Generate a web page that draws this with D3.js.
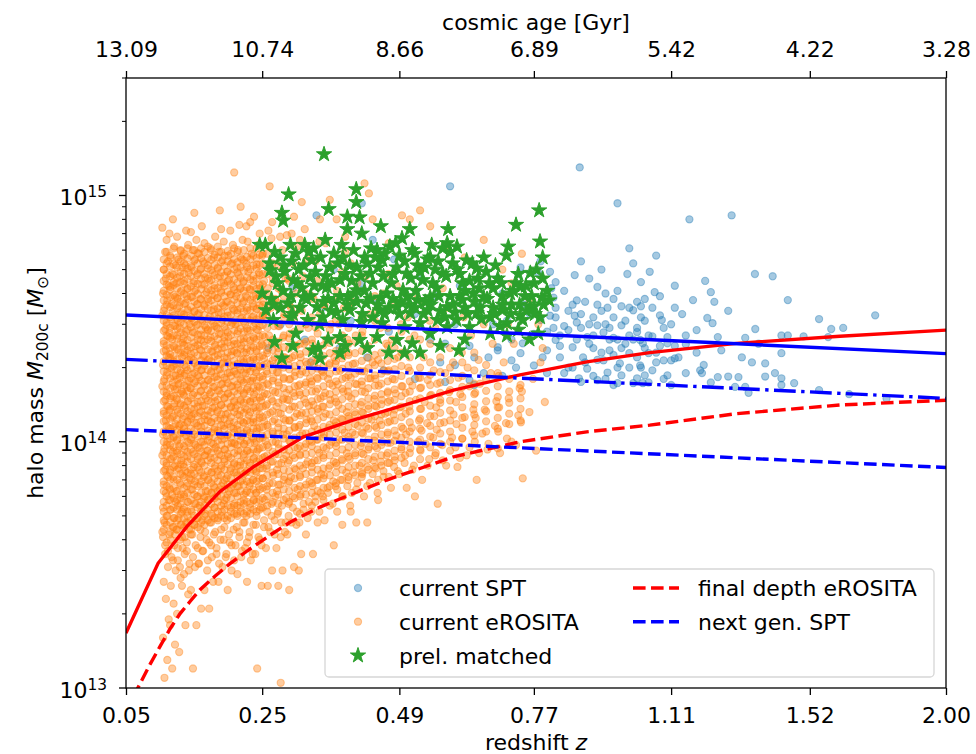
<!DOCTYPE html>
<html><head><meta charset="utf-8">
<script src="https://cdn.jsdelivr.net/npm/d3@7/dist/d3.min.js"></script>
<style>body{margin:0;background:#fff}svg text{font-family:"DejaVu Sans",sans-serif;fill:#000}</style>
</head><body>
<svg id="c" width="976" height="754"></svg>
<script>
// ---- axis tick values ----
const zTicks = [0.05, 0.25, 0.49, 0.77, 1.11, 1.52, 2.00];
const ageLabels = ["13.09", "10.74", "8.66", "6.89", "5.42", "4.22", "3.28"];
const massMajor = [0.1, 1, 10];          // units of 1e14 Msun
const massMajorExp = ["13", "14", "15"];

// ---- scatter data: flat pairs [z, M200c / 1e14 Msun] ----
const sptPts = [
1.053,4.9,1.204,4.5,1.349,4.8,1.403,4.7,1.066,4.05,1.04,3.8,1.17,3.76,1.22,4.05,1.23,3.7,1.45,3.76,1.03,3.55,1.12,3.5,1.14,3.3,1.08,3.26,1.085,3.12,1.21,3.18,1.225,3.03,1.55,3.15,1.74,3.26,1.35,2.87,1.59,2.87,1.63,2.9,1.18,2.84,1.24,2.66,1.32,2.64,1.43,2.7,1.45,2.7,1.5,2.68,1.58,2.66,1.02,2.79,1.06,2.68,1.1,2.66,1.035,2.51,1.1,2.51,1.15,2.49,1.43,2.29,1.05,2.29,1.09,2.14,1.11,2.14,1.12,2.18,1.34,2.1,1.38,2.08,1.03,2.0,1.04,1.86,1.1,1.86,1.15,1.9,1.19,1.95,1.195,1.9,1.24,1.83,1.27,1.84,1.3,1.83,1.38,1.84,1.41,1.9,1.43,1.81,1.035,1.73,1.05,1.74,1.11,1.7,1.22,1.74,1.29,1.67,1.32,1.67,1.33,1.58,1.43,1.7,1.47,1.73,1.55,1.62,1.65,1.56,1.78,1.5,
.88,5.4,1.01,5.3,.807,4.9,.865,4.75,.82,4.45,1.03,4.45,.84,4.1,.92,4.25,.94,4.0,.97,4.1,.815,3.85,.87,3.75,.89,3.7,.945,3.5,.98,3.55,1.01,3.42,.82,3.5,.865,3.25,.91,3.2,.96,3.2,.92,2.97,.87,3.05,.98,2.97,1.02,2.9,.815,2.9,.85,2.84,.935,2.78,.895,2.66,.96,2.64,1.028,2.59,.82,2.59,.86,2.42,.91,2.4,.95,2.35,1.0,2.29,.80,2.35,.83,2.2,.885,2.2,.935,2.14,.976,2.08,1.028,2.04,.85,2.0,.895,1.98,.945,1.91,.98,1.86,1.02,1.81,.875,1.81,.92,1.78,.97,1.73,1.01,1.73,.77,2.04,.72,2.14,.74,2.29,.69,2.42,.745,2.51,.77,2.74,.785,3.12,.76,3.32,.807,3.25,.995,4.8,.74,5.1,.78,4.85,.69,2.35,.785,5.4,
.63,1.78,.66,1.9,.6,2.05,.7,1.85,.58,2.5,.64,2.2,.72,2.6,.68,3.0,.62,3.4,.75,3.6,.7,4.0,
.877,13,.97,9.3,1.16,8.0,1.28,8.3,.59,10.9,.34,8.3,.42,9.3,.44,6.6,1.07,5.7,1.0,6.1,.93,5.0,1.12,4.3,
.28,3.0,.3,4.2,.32,2.6,.35,3.5,.37,5.0,.38,2.4,.4,3.1,.42,4.4,.43,2.2,.45,3.7,.47,2.8,.48,5.5,.5,2.3,.52,3.3,.53,4.7,.55,2.6,.56,3.9,.57,2.1,.6,3.0,.61,4.3,.63,2.45,.65,3.55,.67,2.2,.69,4.6,.71,3.1,.73,2.0,.26,2.4,.33,2.1,.46,1.95,.52,1.8,.58,1.75,.64,1.7,
.83,2.7,.86,3.6,.9,2.5,.93,3.4,.95,2.9,.99,2.5,1.04,3.1,1.07,2.3,.84,1.9,.88,2.9,.91,1.85,.96,2.25,1.0,2.7,1.06,1.95,1.09,2.9,1.13,2.2,1.15,2.7,1.18,2.3,1.2,2.05,.81,4.2,.9,4.6,.94,3.0,.97,2.6,1.02,3.7,1.08,3.9,1.12,2.45,1.25,2.35,1.27,3.4,1.31,2.2,1.36,2.5,
.79,2.2,.8,2.8,.82,3.2,.83,2.45,.85,3.4,.86,2.0,.87,2.6,.88,3.3,.89,2.1,.9,3.0,.91,2.7,.92,3.6,.93,2.3,.94,1.8,.95,2.6,.96,3.8,.97,2.0,.98,2.4,.99,3.1,1.0,2.0,1.01,2.6,1.02,2.2,1.03,3.2,1.04,2.4,1.05,2.7,1.06,3.5,1.07,2.1,1.08,2.45,1.09,1.8,1.11,3.0,.8,1.9,.84,2.95,.88,1.75,.92,2.15,.96,1.7,1.0,3.5
];

const eroPts = [
.103,.11,.107,.13,.101,.16,.109,.19,.105,.23,.102,.27,.108,.31,.104,.35,.106,.39,.100,.43,
.103,.47,.107,.5,.101,.54,.109,.58,.105,.62,.102,.67,.108,.72,.104,.77,.106,.82,.100,.88,
.103,.94,.107,1,.101,1.07,.109,1.14,.105,1.22,.102,1.3,.108,1.39,.104,1.48,.106,1.58,.100,1.68,
.103,1.8,.107,1.92,.101,2.05,.109,2.2,.105,2.35,.102,2.5,.108,2.68,.104,2.86,.106,3.05,.100,3.26,
.103,3.5,.107,3.75,.101,4,.109,4.3,.105,4.6,.102,5,.108,5.4,.104,5.9,.106,6.6,.100,7.4,
.114,.12,.118,.15,.111,.18,.116,.22,.112,.26,.119,.3,.113,.34,.117,.38,.110,.42,.115,.45,
.117,.49,.112,.53,.119,.57,.114,.61,.110,.65,.116,.7,.111,.75,.118,.8,.113,.85,.115,.91,
.111,.97,.116,1.04,.113,1.1,.119,1.18,.114,1.26,.110,1.34,.117,1.43,.112,1.53,.118,1.63,.115,1.74,
.119,1.86,.113,1.98,.116,2.12,.111,2.27,.117,2.42,.114,2.6,.110,2.77,.118,2.95,.112,3.15,.115,3.38,
.113,3.62,.118,3.87,.111,4.15,.116,4.45,.114,4.8,.119,5.2,.112,5.6,.117,6.2,.110,7,.115,8,
.124,.14,.121,.2,.128,.26,.126,.28,.122,.33,.129,.37,.125,.4,.120,.44,.127,.46,.123,.49,
.128,.52,.122,.55,.126,.59,.120,.63,.125,.68,.129,.73,.123,.78,.127,.84,.121,.9,.124,.96,
.121,1.02,.127,1.09,.124,1.16,.129,1.24,.122,1.32,.126,1.41,.120,1.5,.128,1.6,.123,1.71,.125,1.82,
.126,1.94,.120,2.07,.128,2.21,.123,2.36,.129,2.52,.121,2.7,.125,2.9,.122,3.1,.127,3.3,.124,3.55,
.122,3.8,.127,4.1,.120,4.4,.125,4.7,.129,5.1,.123,5.5,.126,6,.121,6.8,
.133,.18,.137,.24,.131,.29,.139,.32,.135,.36,.132,.41,.138,.44,.134,.47,.136,.5,.130,.53,
.137,.57,.131,.61,.135,.66,.139,.71,.133,.76,.130,.81,.136,.87,.132,.93,.138,.99,.134,1.06,
.131,1.13,.136,1.2,.139,1.28,.133,1.37,.137,1.46,.130,1.56,.135,1.66,.138,1.77,.132,1.89,.134,2.01,
.138,2.15,.132,2.3,.136,2.45,.130,2.62,.134,2.8,.139,3,.131,3.2,.137,3.4,.133,3.65,.135,3.9,
.136,4.2,.131,4.5,.138,4.85,.133,5.2,.130,5.7,.137,6.3,.134,7.2,
.144,.12,.149,.18,.141,.25,.147,.31,.151,.37,.143,.42,.146,.46,.150,.49,.142,.52,.148,.56,
.150,.6,.143,.64,.147,.69,.141,.74,.145,.79,.151,.85,.144,.91,.148,.97,.142,1.04,.146,1.11,
.149,1.19,.142,1.27,.146,1.36,.151,1.45,.144,1.55,.140,1.65,.148,1.76,.143,1.88,.150,2,.145,2.14,
.141,2.28,.147,2.44,.151,2.6,.144,2.78,.149,2.97,.142,3.17,.146,3.39,.150,3.62,.143,3.87,.148,4.13,
.145,4.4,.150,4.75,.142,5.1,.147,5.5,.144,6,.149,6.6,.141,7.1,.146,8.5,
.156,.21,.161,.25,.153,.32,.159,.36,.164,.4,.155,.44,.158,.48,.162,.51,.154,.55,.160,.59,
.163,.63,.155,.67,.160,.72,.153,.77,.157,.82,.162,.88,.154,.94,.159,1,.164,1.07,.156,1.15,
.161,1.23,.154,1.31,.158,1.4,.163,1.5,.155,1.6,.160,1.71,.153,1.83,.157,1.96,.162,2.09,.159,2.23,
.154,2.38,.160,2.55,.156,2.72,.163,2.91,.158,3.1,.153,3.32,.161,3.55,.155,3.8,.164,4.05,.157,4.35,
.162,4.65,.155,5,.159,5.4,.153,5.8,.161,6.4,.157,7.5,
.168,.21,.174,.27,.166,.33,.171,.38,.177,.43,.169,.47,.173,.5,.176,.54,.167,.58,.172,.62,
.175,.66,.167,.7,.172,.75,.177,.8,.170,.86,.165,.92,.174,.98,.168,1.05,.176,1.12,.171,1.2,
.166,1.28,.173,1.37,.177,1.46,.169,1.56,.174,1.67,.167,1.78,.171,1.9,.176,2.03,.168,2.17,.173,2.32,
.177,2.48,.170,2.65,.166,2.83,.174,3.02,.169,3.23,.175,3.45,.167,3.7,.172,3.95,.176,4.2,.168,4.5,
.173,4.85,.166,5.2,.175,5.6,.170,6.1,.177,6.8,.184,8.7,
.182,.27,.188,.31,.179,.35,.185,.4,.191,.45,.181,.49,.187,.52,.190,.56,.180,.6,.184,.64,
.189,.68,.181,.73,.186,.78,.191,.83,.183,.89,.178,.95,.187,1.02,.182,1.09,.190,1.16,.185,1.24,
.180,1.32,.186,1.41,.191,1.51,.183,1.61,.188,1.72,.179,1.84,.184,1.97,.190,2.1,.181,2.25,.187,2.4,
.191,2.56,.183,2.74,.179,2.93,.188,3.13,.182,3.35,.189,3.58,.180,3.83,.186,4.1,.190,4.4,.184,4.7,
.181,5.05,.188,5.45,.183,5.9,.190,6.5,.186,7.3,
.196,.25,.202,.3,.193,.34,.199,.39,.205,.44,.195,.48,.201,.52,.206,.55,.194,.59,.198,.63,
.204,.67,.194,.71,.200,.76,.206,.81,.197,.87,.192,.93,.202,.99,.196,1.06,.205,1.13,.199,1.21,
.193,1.29,.201,1.38,.206,1.47,.197,1.57,.203,1.68,.194,1.79,.199,1.91,.205,2.04,.195,2.18,.202,2.33,
.206,2.49,.197,2.66,.193,2.84,.203,3.04,.196,3.25,.204,3.47,.194,3.71,.200,3.97,.205,4.25,.198,4.55,
.195,4.9,.203,5.3,.197,5.7,.204,6.3,.200,7.2,.206,12.4,
.211,.29,.217,.34,.208,.38,.214,.43,.220,.47,.210,.51,.216,.54,.221,.58,.209,.62,.213,.66,
.219,.7,.209,.75,.215,.8,.221,.86,.212,.92,.207,.98,.217,1.05,.211,1.12,.220,1.2,.214,1.28,
.208,1.37,.216,1.46,.221,1.56,.212,1.66,.218,1.77,.209,1.89,.214,2.02,.220,2.16,.210,2.3,.217,2.46,
.221,2.63,.212,2.81,.208,3,.218,3.2,.211,3.42,.219,3.65,.209,3.9,.215,4.17,.220,4.45,.213,4.75,
.210,5.1,.218,5.5,.212,6,.219,6.6,.214,7.6,.216,9,
.226,.27,.232,.33,.223,.37,.229,.41,.236,.46,.225,.5,.231,.54,.237,.58,.224,.62,.230,.66,
.235,.7,.224,.75,.230,.8,.237,.86,.227,.92,.222,.98,.233,1.05,.226,1.12,.236,1.2,.229,1.28,
.223,1.37,.231,1.46,.237,1.56,.227,1.66,.234,1.77,.224,1.89,.229,2.02,.236,2.16,.225,2.3,.232,2.46,
.237,2.63,.227,2.81,.223,3,.234,3.2,.226,3.42,.235,3.65,.224,3.9,.230,4.17,.236,4.5,.228,4.9,
.225,5.3,.233,5.8,.227,6.5,.225,7.5,.231,7.8,
.242,.12,.249,.26,.239,.35,.246,.4,.253,.45,.241,.5,.248,.54,.254,.58,.240,.62,.245,.66,
.251,.71,.240,.76,.247,.81,.254,.87,.243,.93,.238,.99,.250,1.06,.242,1.13,.253,1.21,.246,1.29,
.239,1.38,.248,1.47,.254,1.57,.243,1.68,.251,1.79,.240,1.91,.246,2.04,.253,2.18,.241,2.33,.249,2.49,
.254,2.66,.243,2.84,.239,3.03,.251,3.24,.242,3.46,.252,3.7,.240,3.95,.247,4.2,.253,4.5,.245,4.85,
.241,5.25,.250,5.7,.244,6.3,.246,7,.237,8.2,
.259,.26,.266,.3,.256,.37,.263,.43,.270,.48,.258,.52,.265,.56,.271,.6,.257,.64,.262,.68,
.268,.73,.257,.78,.264,.83,.271,.89,.260,.95,.255,1.01,.267,1.08,.259,1.15,.270,1.23,.263,1.31,
.256,1.4,.265,1.49,.271,1.59,.260,1.7,.268,1.81,.257,1.93,.263,2.06,.270,2.2,.258,2.35,.266,2.5,
.261,2.7,.269,2.95,.256,3.2,.264,3.5,.271,3.8,.259,4.2,.267,4.6,.262,5.1,.258,5.8,.265,6.7,
.260,7.2,.262,10.9,.266,7.8,
.276,.26,.283,.3,.273,.37,.280,.41,.288,.47,.275,.51,.282,.55,.289,.59,.274,.63,.279,.67,
.286,.72,.274,.77,.281,.82,.289,.88,.277,.94,.272,1,.284,1.07,.276,1.14,.288,1.22,.280,1.3,
.273,1.39,.283,1.48,.289,1.58,.277,1.69,.285,1.8,.274,1.92,.280,2.05,.287,2.2,.276,2.4,.284,2.65,
.278,2.95,.286,3.3,.273,3.7,.281,4.1,.288,4.6,.276,5.2,.283,6,.279,6.8,.28,.105,
.294,.25,.302,.31,.291,.42,.298,.47,.307,.52,.293,.56,.300,.6,.308,.64,.292,.68,.297,.72,
.305,.77,.292,.82,.300,.88,.308,.94,.296,1,.290,1.07,.303,1.14,.295,1.22,.307,1.3,.299,1.39,
.291,1.48,.301,1.58,.309,1.69,.296,1.8,.304,1.92,.293,2.05,.299,2.2,.306,2.45,.295,2.75,.302,3.1,
.297,3.5,.305,4,.292,4.6,.300,5.3,.307,6.2,.298,7,.302,8.2,.315,9.4,.29,6.9,
.314,.35,.322,.42,.311,.47,.318,.53,.327,.57,.313,.61,.320,.65,.328,.69,.312,.73,.317,.78,
.325,.83,.312,.89,.320,.95,.328,1.01,.316,1.08,.310,1.15,.323,1.23,.315,1.31,.327,1.4,.319,1.49,
.311,1.59,.321,1.7,.329,1.81,.316,1.93,.324,2.06,.313,2.2,.319,2.5,.326,2.9,.315,3.4,.322,4,
.317,4.7,.325,5.5,.312,6.6,.32,7.3,.31,.30,
.334,.35,.342,.47,.331,.52,.338,.57,.347,.62,.333,.66,.340,.7,.348,.74,.332,.79,.337,.84,
.345,.9,.332,.96,.340,1.02,.348,1.09,.336,1.16,.330,1.24,.343,1.32,.335,1.41,.347,1.5,.339,1.6,
.331,1.71,.341,1.82,.349,1.94,.336,2.07,.344,2.21,.333,2.5,.339,2.9,.346,3.3,.335,3.8,.342,4.5,
.338,5.4,.345,6.5,.346,8,
.354,.48,.363,.55,.351,.6,.359,.65,.369,.69,.353,.73,.361,.78,.370,.83,.352,.88,.357,.94,
.366,1,.353,1.07,.361,1.14,.370,1.22,.356,1.3,.350,1.39,.364,1.48,.355,1.58,.368,1.69,.360,1.8,
.351,1.92,.362,2.05,.371,2.2,.357,2.6,.365,3,.354,3.6,.360,4.3,.367,5.2,.356,6.4,.363,9.6,.37,.38,
.376,.52,.386,.6,.373,.66,.382,.7,.392,.75,.375,.8,.384,.85,.393,.9,.374,.96,.380,1.02,
.389,1.09,.374,1.16,.383,1.24,.393,1.32,.378,1.41,.372,1.5,.387,1.6,.377,1.71,.391,1.82,.381,1.94,
.373,2.07,.385,2.25,.394,2.6,.379,3,.388,3.5,.376,4.1,.384,4.9,.390,5.9,.375,8,.39,6.8,.385,.46,
.399,.55,.410,.64,.396,.7,.405,.75,.416,.8,.398,.85,.408,.9,.418,.96,.397,1.02,.403,1.09,
.413,1.16,.397,1.24,.407,1.32,.418,1.41,.401,1.5,.395,1.6,.411,1.71,.400,1.82,.415,1.94,.404,2.07,
.396,2.3,.409,2.7,.419,3.1,.402,3.7,.412,4.4,.400,5.3,.40,.52,.41,.47,
.424,.6,.435,.68,.421,.74,.430,.79,.441,.84,.423,.89,.433,.95,.443,1.01,.422,1.08,.428,1.15,
.438,1.23,.422,1.31,.432,1.4,.443,1.49,.426,1.59,.420,1.7,.436,1.81,.425,1.93,.440,2.1,.429,2.4,
.421,2.8,.434,3.3,.444,3.9,.427,4.7,.425,11.2,.433,10.2,.44,8,.43,.47,
.449,.62,.460,.72,.446,.78,.455,.83,.466,.88,.448,.94,.458,1,.468,1.07,.447,1.14,.453,1.22,
.463,1.3,.447,1.39,.457,1.48,.468,1.58,.451,1.69,.445,1.8,.461,1.95,.450,2.15,.465,2.5,.454,2.9,
.446,3.4,.459,4,.469,4.8,.45,.58,
.474,.65,.487,.76,.471,.82,.481,.87,.494,.93,.473,.99,.484,1.06,.497,1.13,.472,1.21,.479,1.29,
.491,1.38,.472,1.47,.483,1.57,.496,1.68,.477,1.8,.470,1.95,.488,2.2,.476,2.6,.493,3,.480,3.6,
.485,4.3,.495,8.3,.47,6.4,
.504,.65,.518,.8,.501,.88,.511,.94,.526,1,.503,1.07,.514,1.14,.528,1.22,.502,1.3,.509,1.39,
.522,1.48,.502,1.58,.515,1.69,.527,1.82,.507,2,.500,2.3,.519,2.7,.506,3.2,.524,3.8,.51,8,.52,.6,
.534,.7,.548,.85,.531,.92,.541,.98,.556,1.04,.533,1.11,.544,1.19,.558,1.27,.532,1.36,.539,1.45,
.552,1.55,.532,1.66,.545,1.78,.557,1.95,.537,2.2,.530,2.6,.549,3.1,.536,3.7,.53,8.7,.55,7.5,
.565,.56,.582,.8,.561,.9,.574,.97,.594,1.04,.563,1.12,.578,1.2,.597,1.29,.562,1.38,.570,1.48,
.588,1.59,.564,1.72,.580,1.9,.596,2.1,.571,2.45,.560,2.9,.585,3.5,.575,4.2,.58,6.2,
.605,.79,.624,.88,.601,.95,.615,1.03,.636,1.1,.603,1.18,.620,1.26,.638,1.35,.602,1.45,.611,1.56,
.630,1.68,.607,1.82,.626,2,.614,2.3,.633,2.7,.618,3.2,.62,5.6,
.645,.7,.668,.93,.641,1,.657,1.08,.684,1.16,.643,1.25,.662,1.35,.687,1.46,.642,1.58,.652,1.72,
.675,1.9,.649,2.15,.679,2.5,.660,3,.66,6.6,
.695,.9,.72,1,.691,1.1,.708,1.19,.735,1.28,.693,1.38,.714,1.5,.738,1.65,.692,1.85,.703,2.1,
.725,2.5,.712,3,.70,5,.72,4.4,
.745,.71,.775,.92,.741,1.2,.76,1.32,.795,1.45,.743,1.6,.768,1.8,.785,2.1,.743,5.8,.76,3.8,.78,3,.79,2.4,
// transition zone below the dense core
.101,.41,.104,.38,.108,.36,.112,.4,.115,.33,.118,.42,.122,.37,.125,.31,.128,.41,.132,.35,.135,.39,.138,.3,.141,.42,.144,.34,.148,.38,.152,.32,.155,.41,.158,.36,.162,.43,.165,.3,.168,.39,.172,.34,.175,.42,.179,.37,.183,.32,.186,.44,.19,.4,.194,.35,.198,.42,.202,.38,.206,.33,.21,.45,.214,.41,.218,.36,.222,.47,.226,.39,.23,.43,.235,.35,.24,.46,.244,.41,.249,.38,.253,.48,
.26,.45,.265,.5,.27,.42,.276,.52,.281,.47,.287,.43,.293,.5,.3,.54,.306,.46,.312,.51,.318,.56,.325,.49,.332,.55,.338,.6,.345,.52,.352,.58,.36,.62,.368,.56,.376,.64,.385,.6,.394,.66,.402,.62,.412,.68,.42,.72,.43,.66,.44,.74,.45,.7,.46,.76,.47,.72,.48,.79,.49,.74,.5,.82,.515,.77,.53,.85,.545,.8,.56,.88,.575,.84,.59,.92,.61,.86,.63,.95,.65,.9,.67,.98,.69,.94,.71,1.03,.73,.97
];

// dense eROSITA core, read column by column: redshift of each column and the masses seen in it
const eroCoreZ = [.102,.106,.111,.116,.121,.126,.131,.136,.141,.146,.151,.156,.161,.166,.171,.176,.181,.186,.191,.196,.201,.206,.211,.216,.221,.226,.231,.236,.241,.246,.251,
.258,.267,.276,.285,.294,.303,.312,.322,.332,.342,.352,.363,.374,.385,.396,.408,.420,.432,.444,.456,.468,.481,.494,
.51,.53,.55,.57,.59,.615,.64,.665,.69,.715,.74];
const eroCoreM = [
[.44,.48,.52,.57,.63,.69,.76,.83,.91,1.0,1.1,1.21,1.33,1.46,1.6,1.76,1.93,2.12,2.33,2.56,2.82,3.1,3.4,3.75,4.1,4.5,5.0,5.5],
[.46,.5,.55,.6,.66,.73,.8,.88,.97,1.06,1.16,1.28,1.4,1.54,1.69,1.86,2.04,2.24,2.46,2.7,2.97,3.27,3.6,3.95,4.35,4.8,5.3,5.9],
[.43,.47,.53,.58,.64,.7,.77,.85,.93,1.03,1.13,1.24,1.36,1.5,1.65,1.81,1.99,2.19,2.4,2.64,2.9,3.2,3.52,3.87,4.25,4.7,5.15,5.7],
[.45,.49,.54,.59,.65,.72,.79,.87,.95,1.05,1.15,1.27,1.39,1.53,1.68,1.85,2.03,2.23,2.45,2.7,2.96,3.26,3.58,3.94,4.33,4.77,5.25,6.1],
[.44,.48,.53,.58,.63,.7,.77,.84,.92,1.01,1.12,1.23,1.35,1.48,1.63,1.79,1.97,2.16,2.38,2.62,2.88,3.16,3.48,3.83,4.2,4.63,5.1,5.6],
[.46,.51,.56,.61,.67,.74,.81,.89,.98,1.08,1.18,1.3,1.43,1.57,1.73,1.9,2.09,2.3,2.53,2.78,3.05,3.36,3.7,4.05,4.46,4.9,5.4,5.95],
[.45,.49,.54,.6,.65,.72,.79,.87,.96,1.05,1.16,1.27,1.4,1.54,1.69,1.86,2.05,2.25,2.47,2.72,2.99,3.29,3.62,3.98,4.38,4.82,5.3,5.8],
[.47,.52,.57,.62,.68,.75,.83,.91,1.0,1.1,1.21,1.33,1.46,1.61,1.77,1.95,2.14,2.35,2.59,2.85,3.13,3.45,3.79,4.17,4.58,5.05,5.55,6.1],
[.44,.48,.53,.58,.64,.7,.77,.85,.93,1.02,1.13,1.24,1.36,1.5,1.65,1.81,1.99,2.19,2.41,2.65,2.92,3.21,3.53,3.88,4.27,4.7,5.17,5.7],
[.46,.5,.56,.61,.67,.74,.81,.89,.98,1.07,1.19,1.3,1.43,1.58,1.73,1.9,2.09,2.3,2.53,2.78,3.07,3.37,3.71,4.07,4.48,4.94,5.43,6.0],
[.45,.49,.54,.6,.66,.72,.79,.87,.95,1.05,1.16,1.27,1.39,1.54,1.69,1.86,2.04,2.24,2.47,2.72,2.99,3.29,3.62,3.98,4.38,4.82,5.3,5.83],
[.47,.52,.57,.62,.69,.75,.83,.91,1.0,1.1,1.21,1.33,1.46,1.61,1.77,1.95,2.14,2.35,2.59,2.85,3.14,3.45,3.79,4.17,4.59,5.05,5.56,6.1],
[.46,.5,.55,.6,.66,.73,.8,.88,.97,1.06,1.16,1.28,1.4,1.54,1.69,1.86,2.04,2.24,2.46,2.7,2.97,3.27,3.6,3.95,4.35,4.8,5.3,5.9],
[.48,.53,.58,.63,.7,.76,.84,.92,1.01,1.11,1.22,1.34,1.47,1.62,1.78,1.96,2.15,2.37,2.6,2.86,3.15,3.46,3.8,4.18,4.6,5.06,5.57,6.2],
[.47,.51,.56,.62,.68,.75,.82,.9,.99,1.09,1.2,1.32,1.45,1.59,1.75,1.93,2.12,2.33,2.56,2.82,3.1,3.41,3.75,4.12,4.53,4.98,5.48,6.0],
[.49,.54,.59,.65,.71,.78,.86,.94,1.04,1.14,1.25,1.38,1.52,1.67,1.83,2.02,2.22,2.44,2.68,2.95,3.25,3.57,3.93,4.32,4.75,5.22,5.75],
[.48,.52,.57,.63,.69,.76,.84,.92,1.01,1.11,1.22,1.34,1.48,1.62,1.79,1.96,2.16,2.38,2.61,2.88,3.16,3.48,3.83,4.21,4.63,5.1,5.6,6.2],
[.5,.55,.6,.66,.73,.8,.88,.97,1.06,1.17,1.29,1.41,1.56,1.71,1.88,2.07,2.28,2.5,2.75,3.03,3.33,3.66,4.03,4.43,4.87,5.36,5.9],
[.49,.53,.58,.64,.7,.77,.85,.93,1.03,1.13,1.24,1.37,1.5,1.65,1.82,2.0,2.2,2.42,2.66,2.93,3.22,3.54,3.9,4.29,4.72,5.19,5.7],
[.5,.55,.61,.67,.73,.81,.89,.98,1.07,1.18,1.3,1.43,1.57,1.73,1.9,2.09,2.3,2.53,2.78,3.06,3.36,3.7,4.07,4.48,4.92,5.41,5.95],
[.49,.54,.59,.65,.71,.78,.86,.95,1.04,1.15,1.26,1.39,1.53,1.68,1.85,2.03,2.24,2.46,2.71,2.98,3.27,3.6,3.96,4.36,4.79,5.27,5.8],
[.51,.56,.62,.68,.75,.82,.9,.99,1.09,1.2,1.32,1.45,1.6,1.76,1.93,2.13,2.34,2.57,2.83,3.11,3.42,3.77,4.14,4.56,5.01,5.51,6.1],
[.5,.55,.6,.66,.73,.8,.88,.97,1.06,1.17,1.29,1.41,1.56,1.71,1.88,2.07,2.28,2.5,2.75,3.03,3.33,3.66,4.03,4.43,4.87,5.36,5.9],
[.52,.57,.63,.69,.76,.83,.92,1.01,1.11,1.22,1.34,1.48,1.62,1.79,1.96,2.16,2.38,2.61,2.88,3.16,3.48,3.83,4.21,4.63,5.1,5.6],
[.51,.56,.61,.67,.74,.81,.89,.98,1.08,1.19,1.31,1.44,1.58,1.74,1.91,2.1,2.31,2.54,2.8,3.08,3.38,3.72,4.1,4.5,4.95,5.45,6.0],
[.52,.57,.63,.69,.76,.84,.92,1.01,1.11,1.22,1.35,1.48,1.63,1.79,1.97,2.17,2.39,2.63,2.89,3.18,3.5,3.85,4.23,4.65,5.12,5.63],
[.51,.56,.62,.68,.75,.82,.9,.99,1.09,1.2,1.32,1.45,1.6,1.76,1.93,2.13,2.34,2.57,2.83,3.11,3.42,3.77,4.14,4.56,5.01,5.51,6.1],
[.53,.58,.64,.7,.77,.85,.93,1.03,1.13,1.24,1.37,1.5,1.65,1.82,2.0,2.2,2.42,2.66,2.93,3.22,3.54,3.9,4.29,4.72,5.19,5.7],
[.52,.57,.62,.69,.75,.83,.91,1.0,1.1,1.21,1.33,1.47,1.61,1.77,1.95,2.15,2.36,2.6,2.86,3.14,3.46,3.8,4.18,4.6,5.06,5.57,6.1],
[.53,.58,.64,.71,.78,.85,.94,1.03,1.14,1.25,1.38,1.51,1.66,1.83,2.01,2.21,2.44,2.68,2.95,3.24,3.57,3.92,4.32,4.75,5.22,5.74],
[.54,.59,.65,.71,.78,.86,.95,1.04,1.15,1.26,1.39,1.53,1.68,1.85,2.03,2.24,2.46,2.71,2.98,3.27,3.6,3.96,4.36,4.8,5.3,5.8],
[.55,.6,.66,.73,.8,.88,.97,1.07,1.17,1.29,1.42,1.56,1.72,1.89,2.08,2.29,2.52,2.9,3.4,4.0,4.8],
[.57,.62,.68,.75,.83,.91,1.0,1.1,1.21,1.33,1.46,1.61,1.77,1.95,2.14,2.36,2.6,3.1,3.7,4.4,5.3],
[.56,.61,.67,.74,.81,.89,.98,1.08,1.19,1.31,1.44,1.58,1.74,1.91,2.1,2.31,2.55,2.95,3.5,4.2],
[.58,.64,.7,.77,.85,.93,1.03,1.13,1.24,1.37,1.5,1.65,1.82,2.0,2.2,2.42,2.7,3.2,3.9],
[.57,.63,.69,.76,.84,.92,1.01,1.11,1.22,1.35,1.48,1.63,1.79,1.97,2.17,2.39,2.63,3.0,3.6,4.5],
[.59,.65,.71,.78,.86,.95,1.04,1.15,1.26,1.39,1.53,1.68,1.85,2.03,2.24,2.46,2.8,3.3],
[.6,.66,.72,.8,.88,.96,1.06,1.17,1.28,1.41,1.55,1.71,1.88,2.07,2.27,2.5,2.9,3.5,4.3],
[.61,.67,.74,.81,.89,.98,1.08,1.19,1.31,1.44,1.58,1.74,1.91,2.11,2.32,2.55,3.0],
[.62,.68,.75,.82,.9,1.0,1.1,1.21,1.33,1.46,1.6,1.76,1.94,2.13,2.35,2.6,3.2,3.9],
[.63,.7,.77,.84,.93,1.02,1.12,1.23,1.36,1.49,1.64,1.8,1.98,2.18,2.4,2.75],
[.65,.71,.78,.86,.95,1.04,1.15,1.26,1.39,1.53,1.68,1.85,2.03,2.23,2.46,3.0,3.6],
[.66,.73,.8,.88,.97,1.07,1.17,1.29,1.42,1.56,1.72,1.89,2.08,2.29,2.52,2.85],
[.68,.75,.82,.9,.99,1.09,1.2,1.32,1.45,1.6,1.76,1.93,2.13,2.34,2.6,3.1,3.8],
[.7,.77,.84,.93,1.02,1.12,1.23,1.36,1.49,1.64,1.8,1.98,2.18,2.4,2.7],
[.72,.79,.87,.95,1.05,1.15,1.27,1.39,1.53,1.69,1.86,2.04,2.25,2.5,2.9,3.5],
[.73,.8,.88,.97,1.07,1.18,1.29,1.42,1.57,1.72,1.89,2.08,2.29,2.55],
[.75,.82,.9,.99,1.09,1.2,1.32,1.45,1.6,1.76,1.93,2.13,2.34,2.7,3.2],
[.77,.85,.93,1.02,1.13,1.24,1.36,1.5,1.65,1.81,1.99,2.19,2.45],
[.79,.87,.96,1.05,1.16,1.27,1.4,1.54,1.69,1.86,2.05,2.25,2.6,3.1],
[.8,.88,.97,1.07,1.17,1.29,1.42,1.56,1.72,1.89,2.08,2.3],
[.82,.9,.99,1.09,1.2,1.32,1.45,1.6,1.76,1.93,2.13,2.45,2.9],
[.84,.92,1.01,1.11,1.22,1.35,1.48,1.63,1.79,1.97,2.17,2.4],
[.86,.95,1.04,1.15,1.26,1.39,1.53,1.68,1.85,2.03,2.3,2.8],
[.9,1.0,1.1,1.2,1.33,1.46,1.6,1.76,1.94,2.2,2.6],
[.93,1.02,1.13,1.24,1.36,1.5,1.65,1.82,2.0,2.3],
[.95,1.05,1.16,1.27,1.4,1.54,1.7,1.87,2.1,2.5],
[.98,1.08,1.19,1.31,1.44,1.58,1.74,1.92,2.2],
[1.0,1.1,1.22,1.34,1.47,1.62,1.78,2.0,2.4],
[1.03,1.14,1.25,1.38,1.52,1.67,1.85,2.1],
[1.06,1.17,1.29,1.42,1.56,1.72,1.95,2.3],
[1.1,1.21,1.33,1.46,1.61,1.8,2.05],
[1.13,1.25,1.38,1.52,1.68,1.9],
[1.18,1.3,1.44,1.6,1.8],
[1.22,1.36,1.5,1.7]
];

const matchedPts = [
.353,14.7,.293,10.1,.41,10.6,.282,8.5,.284,7.9,.361,8.8,.41,9.4,.394,8.2,.416,8.15,.455,7.5,.782,8.7,.73,7.6,.784,6.5,.79,5.6,.713,6.2,.709,5.7,.586,7.3,.51,7.3,.495,6.7,.42,7.0,.394,7.3,.355,6.6,.32,6.3,.296,6.3,.255,6.3,.246,6.3,.472,6.2,.448,6.0,.584,6.4,.604,6.2,.55,5.6,.525,5.2,.624,5.45,.645,5.05,.665,4.9,.762,4.85,.77,4.4,.74,4.25,.717,4.0,.68,4.2,.80,4.1,.805,3.75,.762,3.52,.739,3.26,.70,3.42,.66,3.86,.615,4.4,.575,4.82,.563,4.2,.535,4.53,.504,4.82,.485,5.1,.458,5.46,.435,4.82,.411,5.1,.386,5.6,.363,5.1,.332,5.46,.305,5.8,.279,5.6,.263,4.97,.275,4.4,.301,4.53,.329,4.65,.358,4.25,.381,4.53,.411,4.12,.44,4.4,.466,4.0,.497,4.12,.525,3.76,.55,3.86,.584,3.52,.615,3.76,.645,3.33,.674,3.2,.71,3.03,.745,3.12,.784,3.2,.25,4.0,.256,3.42,.292,3.65,.318,3.86,.341,3.52,.37,3.65,.398,3.42,.428,3.65,.453,3.42,.485,3.52,.511,3.33,.545,3.42,.565,3.12,.603,3.12,.63,2.92,.674,2.75,.268,3.12,.296,3.2,.325,3.12,.351,3.2,.386,3.12,.42,3.06,.458,3.03,.5,2.92,.53,3.03,.584,2.92,.27,2.54,.305,2.75,.343,2.4,.381,2.66,.416,2.59,.448,2.66,.485,2.59,.515,2.51,.608,2.35,.55,2.75,.282,2.18,.346,2.18,.381,2.29,.5,2.29,.334,2.35,
.27,5.9,.285,5.2,.31,5.0,.335,6.1,.35,4.3,.37,5.8,.39,4.8,.405,6.0,.43,5.3,.445,5.6,.46,4.7,.475,4.4,.49,5.7,.515,6.0,.53,4.9,.545,5.5,.56,5.0,.575,6.1,.595,5.3,.61,4.8,.63,4.5,.65,4.2,.66,5.6,.69,4.6,.70,3.9,.72,3.6,.73,4.4,.75,3.9,.77,3.55,.79,4.6,.265,3.8,.28,3.5,.3,3.3,.315,4.2,.33,3.9,.345,3.0,.36,3.8,.375,3.35,.395,3.9,.41,3.7,.425,4.1,.44,3.2,.455,3.85,.47,3.5,.49,3.3,.505,3.9,.52,3.5,.54,3.7,.555,4.4,.57,3.4,.59,3.9,.6,3.35,.62,3.5,.64,3.7,.655,3.15,.68,3.5,.695,2.95,.71,2.7,.735,2.85,.76,2.6,.78,2.75,.62,2.6,.57,2.45,.53,2.3,.47,2.3,.43,2.4,.39,2.45,.36,2.6,.3,2.45,
.262,5.3,.272,4.7,.287,4.9,.298,5.4,.308,4.4,.318,5.2,.327,5.9,.338,4.9,.347,5.6,.356,4.7,.366,4.4,.377,5.3,.384,6.3,.398,5.2,.402,4.5,.418,4.7,.425,5.6,.437,6.1,.45,5.1,.462,5.8,.478,4.8,.483,6.4,.5,5.4,.512,4.6,.52,5.8,.538,5.1,.553,6.3,.566,5.4,.582,4.7,.59,5.9,.604,5.0,.62,4.1,.636,5.3,.648,4.6,.672,4.4,.685,5.2,.698,4.4,.724,4.1,.735,4.8,.752,4.3,.765,3.9,.776,5.0,.792,3.6,
.268,3.6,.284,4.1,.297,3.9,.312,3.5,.323,3.8,.336,4.3,.352,3.7,.365,3.4,.381,3.9,.394,3.6,.407,4.0,.421,3.3,.436,3.8,.449,3.6,.462,3.3,.478,3.8,.493,3.7,.508,3.6,.522,4.1,.537,3.3,.551,3.6,.567,3.9,.58,3.2,.596,3.6,.61,3.9,.626,3.3,.638,4.0,.652,3.5,.667,3.8,.683,3.3,.701,3.6,.718,3.3,.738,3.6,.753,3.4,.772,3.3,.788,3.85
];

// ---- detection limit curves: z and M200c / 1e14 Msun ----
const blueSolidZ = [0.05, 2.0];
const blueSolidM = [3.27, 2.28];
const blueDashDotZ = [0.05, 2.0];
const blueDashDotM = [2.16, 1.50];
const nextGenSptZ = [0.05, 2.0];
const nextGenSptM = [1.12, 0.786];
const redSolidZ = [0.05, 0.094, 0.135, 0.184, 0.236, 0.318, 0.404, 0.466, 0.597, 0.739, 0.894, 1.053, 1.294, 1.619, 2.0];
const redSolidM = [0.167, 0.321, 0.452, 0.627, 0.791, 1.047, 1.225, 1.34, 1.62, 1.87, 2.11, 2.30, 2.51, 2.68, 2.84];
const finalEroZ = [0.05, 0.066, 0.083, 0.097, 0.111, 0.125, 0.140, 0.154, 0.177, 0.199, 0.226, 0.263, 0.296, 0.346, 0.405, 0.466, 0.597, 0.739, 0.894, 1.053, 1.294, 1.619, 2.0];
const finalEroM = [0.079, 0.10, 0.125, 0.148, 0.174, 0.200, 0.225, 0.250, 0.285, 0.319, 0.360, 0.418, 0.472, 0.543, 0.617, 0.699, 0.869, 1.0, 1.097, 1.168, 1.30, 1.41, 1.475];

const legendScatter = ["current SPT", "current eROSITA", "prel. matched"];
const legendLines = ["final depth eROSITA", "next gen. SPT"];

// ---------------- drawing ----------------
const L = 126, R = 946, T = 78, B = 688;
const FS = 22;
const C_BLUE = "#1f77b4", C_ORANGE = "#ff7f0e", C_GREEN = "#2ca02c";
const svg = d3.select("#c");
const xS = d3.scaleLog().domain([1.05, 3]).range([L, R]);   // linear in log(1+z)
const yS = d3.scaleLog().domain([0.1, 30]).range([B, T]);
const px = z => xS(1 + z), py = m => yS(m);
const pairs = a => { const r = []; for (let i = 0; i < a.length; i += 2) r.push([a[i], a[i + 1]]); return r; };
const zip = (a, b) => a.map((v, i) => [v, b[i]]);
const eroAll = pairs(eroPts);
eroCoreZ.forEach((z, i) => eroCoreM[i].forEach(m => eroAll.push([z, m])));

svg.append("defs").append("clipPath").attr("id", "clip")
  .append("rect").attr("x", L).attr("y", T).attr("width", R - L).attr("height", B - T);
const plot = svg.append("g").attr("clip-path", "url(#clip)");

const ALPHA = 0.4;
function circles(data, color) {
  plot.append("g").selectAll("circle").data(data).join("circle")
    .attr("cx", d => px(d[0])).attr("cy", d => py(d[1])).attr("r", 3.6)
    .attr("fill", color).attr("fill-opacity", ALPHA)
    .attr("stroke", color).attr("stroke-opacity", ALPHA).attr("stroke-width", 1.1);
}
circles(pairs(sptPts), C_BLUE);
circles(eroAll, C_ORANGE);
const star = d3.symbol().type(d3.symbolStar).size(72);
plot.append("g").selectAll("path").data(pairs(matchedPts)).join("path")
  .attr("d", star).attr("transform", d => `translate(${px(d[0])},${py(d[1])})`)
  .attr("fill", C_GREEN).attr("stroke", C_GREEN).attr("stroke-width", 1);

const line = d3.line().x(d => px(d[0])).y(d => py(d[1]));
const LW = 3.4;
const dash = `${3.7 * LW},${1.6 * LW}`;
const dashDot = `${6.4 * LW},${1.6 * LW},${1 * LW},${1.6 * LW}`;
function curve(z, m, color, da) {
  plot.append("path").datum(zip(z, m)).attr("d", line).attr("fill", "none")
    .attr("stroke", color).attr("stroke-width", LW).attr("stroke-dasharray", da || null);
}
curve(redSolidZ, redSolidM, "#ff0000");
curve(finalEroZ, finalEroM, "#ff0000", dash);
curve(blueSolidZ, blueSolidM, "#0000ff");
curve(blueDashDotZ, blueDashDotM, "#0000ff", dashDot);
curve(nextGenSptZ, nextGenSptM, "#0000ff", dash);

// spines
svg.append("rect").attr("x", L).attr("y", T).attr("width", R - L).attr("height", B - T)
  .attr("fill", "none").attr("stroke", "#000").attr("stroke-width", 1.3);

// bottom axis
const gx = svg.append("g").attr("transform", `translate(0,${B})`)
  .call(d3.axisBottom(xS).tickValues(zTicks.map(z => 1 + z)).tickFormat(v => (v - 1).toFixed(2)).tickSize(7).tickSizeOuter(0));
gx.select(".domain").remove();
gx.attr("font-size", FS).attr("font-family", "DejaVu Sans");
gx.selectAll("line").attr("stroke", "#000").attr("stroke-width", 1.3);
gx.selectAll("text").attr("y", 35).attr("dy", null).attr("fill", "#000");

// top axis (cosmic age)
const gt = svg.append("g").attr("transform", `translate(0,${T})`)
  .call(d3.axisTop(xS).tickValues(zTicks.map(z => 1 + z)).tickFormat((v, i) => ageLabels[i]).tickSize(7).tickSizeOuter(0));
gt.select(".domain").remove();
gt.attr("font-size", FS).attr("font-family", "DejaVu Sans");
gt.selectAll("line").attr("stroke", "#000").attr("stroke-width", 1.3);
gt.selectAll("text").attr("y", -21).attr("dy", null).attr("fill", "#000");

// left axis (log mass)
const minor = [];
massMajor.forEach(d => { for (let k = 2; k <= 9; k++) if (k * d <= 30 + 1e-9) minor.push(k * d); });
const gy = svg.append("g");
gy.selectAll("line.minor").data(minor).join("line").attr("class", "minor")
  .attr("x1", L - 4).attr("x2", L).attr("y1", d => yS(d)).attr("y2", d => yS(d))
  .attr("stroke", "#000").attr("stroke-width", 1);
gy.selectAll("line.major").data(massMajor).join("line").attr("class", "major")
  .attr("x1", L - 7).attr("x2", L).attr("y1", d => yS(d)).attr("y2", d => yS(d))
  .attr("stroke", "#000").attr("stroke-width", 1.3);
const yl = gy.selectAll("text").data(massMajor).join("text")
  .attr("x", 107).attr("y", d => yS(d) + 9.7).attr("text-anchor", "end").attr("font-size", FS);
yl.append("tspan").text("10");
yl.append("tspan").attr("font-size", FS * 0.7).attr("dy", -8).text((d, i) => massMajorExp[i]);

// axis titles
svg.append("text").attr("x", (L + R) / 2).attr("y", 30).attr("text-anchor", "middle").attr("font-size", FS).text("cosmic age [Gyr]");
const xt = svg.append("text").attr("x", (L + R) / 2).attr("y", 750).attr("text-anchor", "middle").attr("font-size", FS);
xt.append("tspan").text("redshift ");
xt.append("tspan").attr("font-style", "italic").text("z");
const ytl = svg.append("text").attr("transform", `translate(43,${(T + B) / 2}) rotate(-90)`).attr("text-anchor", "middle").attr("font-size", FS);
ytl.append("tspan").text("halo mass ");
ytl.append("tspan").attr("font-style", "italic").text("M");
ytl.append("tspan").attr("font-size", FS * 0.7).attr("dy", 5).text("200c");
ytl.append("tspan").attr("dy", -5).text(" [");
ytl.append("tspan").attr("font-style", "italic").text("M");
ytl.append("tspan").attr("font-size", FS * 0.7).attr("dy", 5).text("⊙");
ytl.append("tspan").attr("dy", -5).text("]");

// legend
const lg = svg.append("g");
lg.append("rect").attr("x", 325).attr("y", 569).attr("width", 609).attr("height", 108).attr("rx", 4)
  .attr("fill", "#fff").attr("fill-opacity", 0.8).attr("stroke", "#cccccc").attr("stroke-opacity", 0.8).attr("stroke-width", 1.3);
const rowY = [588, 621.7, 655.5];
const scatColors = [C_BLUE, C_ORANGE];
legendScatter.forEach((t, i) => {
  if (i < 2) {
    lg.append("circle").attr("cx", 358).attr("cy", rowY[i]).attr("r", 3.6)
      .attr("fill", scatColors[i]).attr("fill-opacity", ALPHA).attr("stroke", scatColors[i]).attr("stroke-opacity", ALPHA).attr("stroke-width", 1.1);
  } else {
    lg.append("path").attr("d", star).attr("transform", `translate(358,${rowY[i]})`).attr("fill", C_GREEN).attr("stroke", C_GREEN);
  }
  lg.append("text").attr("x", 399).attr("y", rowY[i] + 8.3).attr("font-size", FS).text(t);
});
const lineColors = ["#ff0000", "#0000ff"];
legendLines.forEach((t, i) => {
  lg.append("line").attr("x1", 633).attr("x2", 679).attr("y1", rowY[i]).attr("y2", rowY[i])
    .attr("stroke", lineColors[i]).attr("stroke-width", LW).attr("stroke-dasharray", dash);
  lg.append("text").attr("x", 698).attr("y", rowY[i] + 8.3).attr("font-size", FS).text(t);
});
</script>
</body></html>
